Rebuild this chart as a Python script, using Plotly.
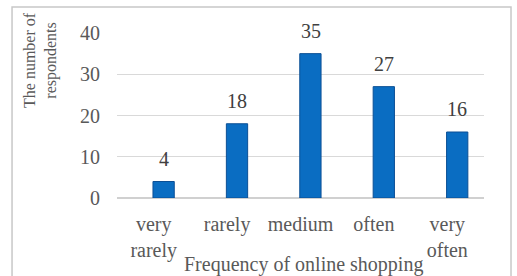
import plotly.graph_objects as go

categories = ["very<br>rarely", "rarely", "medium", "often", "very<br>often"]
respondents = [4, 18, 35, 27, 16]
y_ticks = [0, 10, 20, 30, 40]

FONT = "Liberation Serif, Times New Roman, serif"
GRAY = "#595959"

fig = go.Figure()
fig.add_trace(go.Bar(
    x=list(range(len(categories))),
    y=respondents,
    width=0.29,
    offset=-0.01,
    marker=dict(color="#0A6DC2", line=dict(color="#0B4F95", width=1)),
    hoverinfo="x+y",
))

label_annotations = [
    dict(text=str(v), x=i, y=v, xref="x", yref="y",
         xanchor="center", yanchor="middle", xshift=10, yshift=23,
         showarrow=False, font=dict(family=FONT, size=20, color="#404040"))
    for i, v in enumerate(respondents)
]

fig.update_layout(
    width=517, height=276,
    margin=dict(l=117, r=33, t=33, b=78),
    paper_bgcolor="white", plot_bgcolor="white",
    showlegend=False,
    font=dict(family=FONT, size=20, color=GRAY),
    xaxis=dict(
        range=[-0.5, 4.5],
        tickmode="array",
        tickvals=list(range(len(categories))),
        ticktext=categories,
        showgrid=False, zeroline=False, showline=False,
        ticks="", ticklabelstandoff=12,
        tickfont=dict(family=FONT, size=20, color=GRAY),
    ),
    yaxis=dict(
        range=[0, 40],
        tickmode="array", tickvals=y_ticks,
        showgrid=True, gridcolor="#D9D9D9", gridwidth=1,
        zeroline=True, zerolinecolor="#D0D0D0", zerolinewidth=2,
        showline=False, ticks="", ticklabelstandoff=16,
        tickfont=dict(family=FONT, size=20, color=GRAY),
    ),
    annotations=label_annotations + [
        dict(text="The number of<br>respondents", textangle=-90,
             xref="paper", yref="paper", x=-0.21, y=0.836,
             xanchor="center", yanchor="middle", showarrow=False,
             font=dict(family=FONT, size=16, color=GRAY)),
        dict(text="Frequency of online shopping",
             xref="paper", yref="paper", x=0.507, y=-0.406,
             xanchor="center", yanchor="middle", showarrow=False,
             font=dict(family=FONT, size=20, color=GRAY)),
    ],
    shapes=[
        dict(type="rect", xref="paper", yref="paper",
             x0=-0.286, x1=1.0736, y0=-0.52, y1=1.158,
             line=dict(color="#C8C8C8", width=1.5), layer="above"),
    ],
)

fig.write_html("out.html", config={"displayModeBar": False},
               post_script="document.body.style.margin='0';")
